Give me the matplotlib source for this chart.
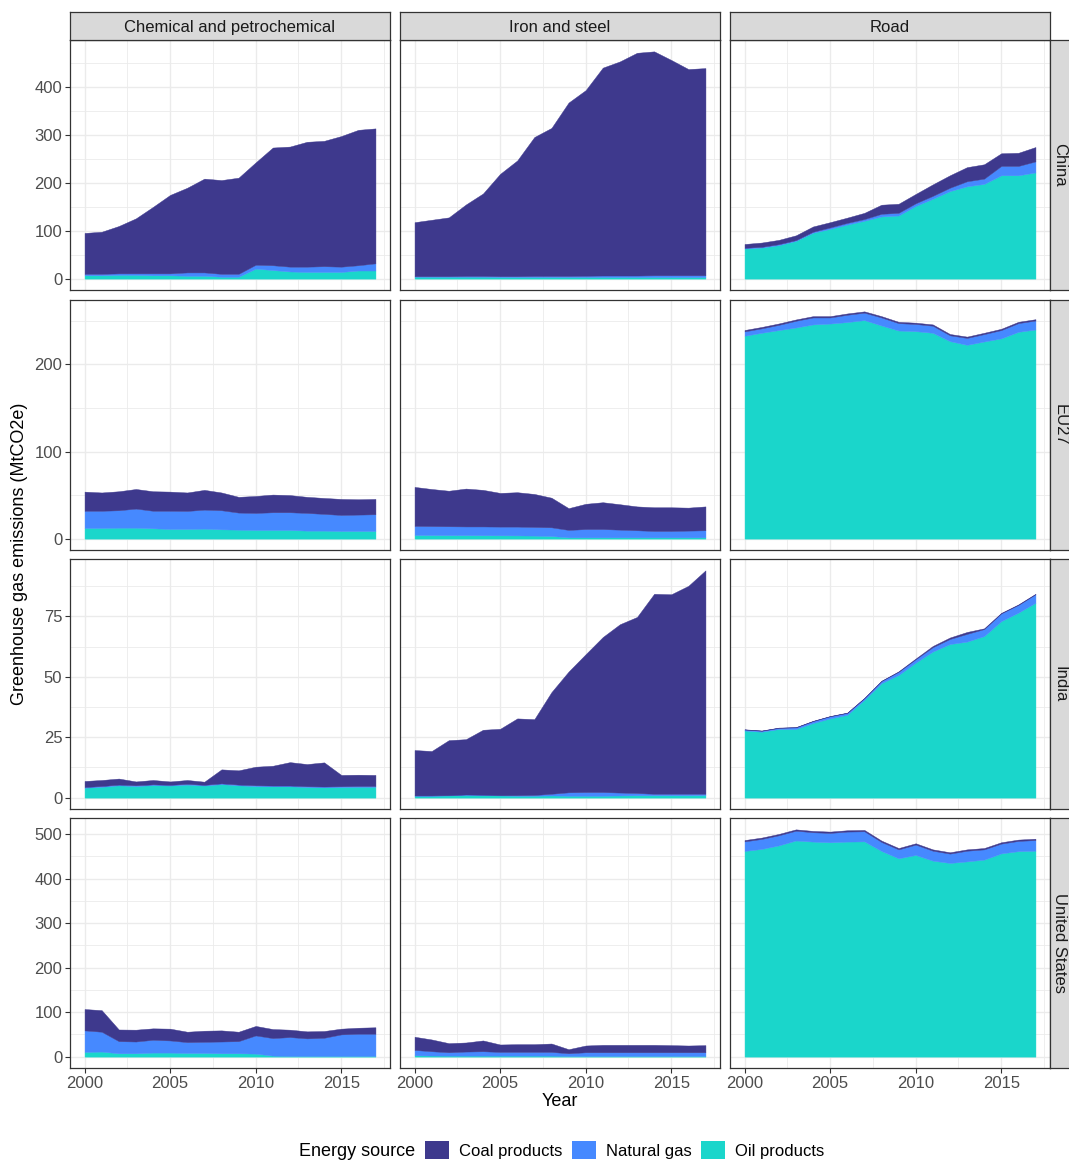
import matplotlib
matplotlib.use('Agg')
from matplotlib import pyplot as plt
from matplotlib.patches import Patch
from matplotlib.ticker import MultipleLocator

plt.rcParams['font.family'] = ['Liberation Sans', 'DejaVu Sans']

years = [2000, 2001, 2002, 2003, 2004, 2005, 2006, 2007, 2008,
         2009, 2010, 2011, 2012, 2013, 2014, 2015, 2016, 2017]
sectors = ['Chemical and petrochemical', 'Iron and steel', 'Road']
countries = ['China', 'EU27', 'India', 'United States']
fuels = ['Coal products', 'Natural gas', 'Oil products']
fuel_colors = {'Coal products': '#3E398D', 'Natural gas': '#4689FF', 'Oil products': '#1AD6CB'}

# MtCO2e
china_chem_oil = [7, 7, 8, 8, 7, 7, 6, 6, 4, 4, 21, 18, 15, 14, 14, 14, 17, 17]
china_chem_gas = [3, 3, 3, 3, 4, 4, 7, 7, 6, 6, 8, 10, 10, 11, 12, 11, 11, 15]
china_chem_coal = [85.5, 88, 99, 115, 139, 164, 177, 196, 196, 201, 214, 246, 251, 261, 262, 273, 283, 282]

china_iron_oil = [4, 4, 4, 4, 4, 3.5, 3.5, 3.5, 3.5, 3.5, 3.5, 3.5, 3.5, 3.5, 3.5, 3.5, 3.5, 3.5]
china_iron_gas = [1, 1, 1, 1.5, 1.5, 1.5, 1.5, 2, 2, 2, 2.5, 3, 3, 3, 3.5, 3.5, 3.5, 3.5]
china_iron_coal = [113, 118, 123, 149.5, 172.5, 214, 242, 290.5, 309.5, 362.5, 388, 434.5, 447.5, 465.5, 468, 450, 431, 433]

china_road_oil = [63, 65, 70, 79, 96, 104, 113, 121, 130, 132, 152, 167, 183, 193, 198, 216, 216, 222]
china_road_gas = [1.4, 1.4, 2, 1.5, 2, 3, 3.5, 3.5, 5.5, 5.5, 5.5, 6, 7, 10.5, 11, 19.5, 19.5, 23]
china_road_coal = [8, 9, 9, 10, 11, 11, 11, 13, 19, 19, 19.5, 24, 26, 29.5, 30, 26.5, 27.5, 30]

eu_chem_oil = [12.3, 12.3, 12.6, 12.6, 11.9, 11.1, 11.1, 11.5, 10.7, 10.3, 10, 10, 10, 9.2, 9.2, 8.8, 8.8, 8.8]
eu_chem_gas = [19.7, 19.7, 20, 21.9, 20.1, 20.9, 20.7, 21.8, 21.9, 19.6, 19.5, 20.3, 20.3, 20.3, 19.2, 18.4, 18.8, 19.2]
eu_chem_coal = [22, 21, 21.8, 22.5, 22.4, 22, 21.2, 22.7, 20.4, 18.1, 19.5, 20.3, 19.7, 18.5, 18.3, 18.4, 17.6, 17.6]

eu_iron_oil = [4.2, 4.1, 4, 4, 3.9, 3.8, 3.7, 3.5, 3, 1.5, 1.5, 1.5, 1.5, 1.5, 1.5, 1.5, 1.5, 1.5]
eu_iron_gas = [10.4, 10.3, 10.2, 10, 10.1, 10, 10.1, 9.9, 10, 8.5, 9.5, 9.5, 8.8, 8.1, 7.3, 7.3, 7.7, 8.1]
eu_iron_coal = [44.8, 42.6, 40.8, 43.5, 42, 38.7, 39.5, 37.9, 34, 25, 29, 30.8, 29.2, 27.4, 27.2, 27.2, 26.4, 27.4]

eu_road_oil = [233, 236.4, 239.5, 242.5, 246, 247, 248.7, 251, 244.8, 239, 238.3, 236.4, 226.8, 222.6, 226.4, 230, 237.5, 240.2]
eu_road_gas = [5, 5.1, 6, 7.7, 8, 7, 8.4, 8.5, 9.2, 8.5, 8.2, 8.1, 6.7, 7.9, 8.5, 9.5, 10, 10.3]
eu_road_coal = [1.6, 1.6, 1.6, 1.5, 1.5, 1.5, 1.5, 1.5, 1.5, 1.5, 1.5, 1.5, 1.5, 1.5, 1.5, 1.5, 1.5, 1.5]

india_chem_oil = [4.1, 4.5, 5.1, 4.8, 5.2, 5, 5.4, 5, 5.6, 5.1, 4.8, 4.7, 4.7, 4.4, 4.3, 4.4, 4.5, 4.5]
india_chem_gas = [0.3, 0.3, 0.3, 0.3, 0.3, 0.3, 0.3, 0.3, 0.3, 0.3, 0.3, 0.3, 0.3, 0.3, 0.3, 0.3, 0.3, 0.3]
india_chem_coal = [2.5, 2.5, 2.5, 1.6, 1.8, 1.4, 1.6, 1.3, 5.8, 5.9, 7.7, 8.2, 9.7, 9.2, 10, 4.7, 4.7, 4.6]

india_iron_oil = [0.8, 0.8, 0.9, 1.2, 1.1, 0.9, 0.8, 0.8, 0.9, 0.8, 0.8, 0.8, 0.9, 1, 1, 1, 1, 1.1]
india_iron_gas = [0.1, 0.1, 0.1, 0.1, 0.1, 0.1, 0.2, 0.3, 0.7, 1.4, 1.5, 1.5, 1.2, 0.9, 0.6, 0.6, 0.6, 0.5]
india_iron_coal = [18.8, 18.4, 22.8, 22.9, 26.9, 27.5, 31.8, 31.4, 42.1, 50, 57.1, 64.2, 69.7, 72.9, 82.8, 82.6, 86.1, 92.5]

india_road_oil = [27.8, 27.3, 28.4, 28.4, 30.9, 32.8, 34.3, 40.5, 47.4, 50.8, 55.9, 60.5, 63.6, 64.6, 66.9, 73.1, 76.6, 80.7]
india_road_gas = [0.4, 0.4, 0.5, 0.7, 0.8, 0.9, 0.8, 0.7, 0.9, 1.3, 1.4, 1.8, 2.1, 3.2, 2.9, 3.2, 3.2, 3.5]
india_road_coal = [0.1, 0.1, 0.1, 0.1, 0.1, 0.1, 0.1, 0.1, 0.1, 0.2, 0.3, 0.5, 0.6, 0.8, 0.3, 0.2, 0.2, 0.2]

us_chem_oil = [10.6, 11.4, 7.6, 7.6, 9.1, 9.1, 8.3, 8.3, 7.6, 7.6, 6.8, 2.3, 1.5, 1.5, 1.5, 1.5, 1.5, 1.5]
us_chem_gas = [48.4, 44.6, 27.2, 26.4, 28.8, 27.3, 24.3, 25, 26.4, 27.2, 40.9, 39.4, 42.5, 39.5, 40.9, 48.5, 50, 50]
us_chem_coal = [48, 48.5, 26.2, 26.6, 25.7, 26.5, 23.4, 25, 25, 21.2, 21.3, 20.3, 16.6, 15.8, 15.2, 12.9, 13.5, 14.5]

us_iron_oil = [3, 2.5, 2.3, 2.3, 2.3, 2.3, 2.3, 2.3, 2.3, 1.5, 1.5, 1.5, 1.5, 1.5, 1.5, 1.5, 1.5, 1.5]
us_iron_gas = [12, 9.6, 7.5, 9.1, 9.8, 8.3, 8.3, 8.3, 8.3, 6.1, 8.3, 8.3, 8.3, 8.3, 8.3, 8.3, 8.3, 8.3]
us_iron_coal = [29.7, 26.5, 20.5, 20.4, 24.3, 16.7, 17.4, 17.4, 18.9, 9.1, 15.2, 16.7, 16.7, 16.7, 16.7, 16, 15.2, 16]

us_road_oil = [462.5, 467, 475, 486, 483.5, 482, 483.5, 484, 462.5, 446, 453.5, 440.7, 435.5, 439, 443, 457, 462, 463]
us_road_gas = [21.5, 22.5, 22.7, 22, 21, 21, 22.5, 22.7, 20.2, 20, 23.2, 22.3, 21, 24, 23, 22, 23, 24]
us_road_coal = [3, 3, 3, 3, 3, 3, 3, 3, 3, 3, 3, 3, 3, 3, 3, 3, 3, 3]

panels = {
    'China': [(china_chem_oil, china_chem_gas, china_chem_coal),
              (china_iron_oil, china_iron_gas, china_iron_coal),
              (china_road_oil, china_road_gas, china_road_coal)],
    'EU27': [(eu_chem_oil, eu_chem_gas, eu_chem_coal),
             (eu_iron_oil, eu_iron_gas, eu_iron_coal),
             (eu_road_oil, eu_road_gas, eu_road_coal)],
    'India': [(india_chem_oil, india_chem_gas, india_chem_coal),
              (india_iron_oil, india_iron_gas, india_iron_coal),
              (india_road_oil, india_road_gas, india_road_coal)],
    'United States': [(us_chem_oil, us_chem_gas, us_chem_coal),
                      (us_iron_oil, us_iron_gas, us_iron_coal),
                      (us_road_oil, us_road_gas, us_road_coal)],
}
y_steps = {'China': 100, 'EU27': 100, 'India': 25, 'United States': 100}

W, H = 1069, 1161
fig = plt.figure(figsize=(W / 100, H / 100), dpi=100)


def px_rect(x, y, w, h):
    return [x / W, 1 - (y + h) / H, w / W, h / H]


col_x = [70, 400, 730]
row_y = [40, 300, 559, 818]
pw, ph = 320, 250
border = '#333333'

x_lo = years[0] - 0.05 * (years[-1] - years[0])
x_hi = years[-1] + 0.05 * (years[-1] - years[0])

for i, country in enumerate(countries):
    # shared y range across the row (facet_grid free_y)
    top = max(o + g + c for stack in panels[country] for o, g, c in zip(*stack))
    y_lo, y_hi = -0.05 * top, top * 1.05

    for j, sector in enumerate(sectors):
        ax = fig.add_axes(px_rect(col_x[j], row_y[i], pw, ph))
        oil, gas, coal = panels[country][j]
        polys = ax.stackplot(years, oil, gas, coal,
                             colors=[fuel_colors['Oil products'], fuel_colors['Natural gas'],
                                     fuel_colors['Coal products']],
                             linewidth=0)
        for p in polys:
            p.set_edgecolor(p.get_facecolor())
            p.set_linewidth(0.3)

        ax.set_xlim(x_lo, x_hi)
        ax.set_ylim(y_lo, y_hi)
        ax.xaxis.set_major_locator(MultipleLocator(5))
        ax.xaxis.set_minor_locator(MultipleLocator(2.5))
        ax.yaxis.set_major_locator(MultipleLocator(y_steps[country]))
        ax.yaxis.set_minor_locator(MultipleLocator(y_steps[country] / 2))
        ax.grid(which='major', color='#EBEBEB', lw=1.0)
        ax.grid(which='minor', color='#EBEBEB', lw=0.6)
        ax.set_axisbelow(True)
        for s in ax.spines.values():
            s.set_color(border)
            s.set_linewidth(0.9)
        ax.tick_params(which='major', length=3.5, width=0.8, color=border,
                       labelcolor='#4D4D4D', labelsize=12, pad=2)
        ax.tick_params(which='minor', length=0)
        if j > 0:
            ax.tick_params(labelleft=False, left=False)
        if i < len(countries) - 1:
            ax.tick_params(labelbottom=False, bottom=False)

        if i == 0:
            sax = fig.add_axes(px_rect(col_x[j], 12, pw, 28))
            sax.set_facecolor('#D9D9D9')
            sax.set_xticks([])
            sax.set_yticks([])
            for s in sax.spines.values():
                s.set_color(border)
                s.set_linewidth(0.9)
            sax.text(0.5, 0.44, sector, ha='center', va='center', fontsize=12,
                     color='#1A1A1A', transform=sax.transAxes)

    rax = fig.add_axes(px_rect(1050, row_y[i], 22, ph))
    rax.set_facecolor('#D9D9D9')
    rax.set_xticks([])
    rax.set_yticks([])
    for s in rax.spines.values():
        s.set_color(border)
        s.set_linewidth(0.9)
    rax.text(0.45, 0.5, country, ha='center', va='center', rotation=-90, fontsize=12,
             color='#1A1A1A', transform=rax.transAxes)

fig.text(20 / W, 1 - 554 / H, 'Greenhouse gas emissions (MtCO2e)', rotation=90,
         ha='center', va='center', fontsize=13)
fig.text(560 / W, 1 - 1102 / H, 'Year', ha='center', va='center', fontsize=13)

fig.text(299 / W, 1 - 1152 / H, 'Energy source', ha='left', va='center', fontsize=13)
handles = [Patch(facecolor=fuel_colors[f], edgecolor='none') for f in fuels]
fig.legend(handles, fuels, loc='center left', bbox_to_anchor=(425 / W, 1 - 1150 / H),
           ncol=3, frameon=False, fontsize=12, handlelength=1.45, handleheight=1.3,
           handletextpad=0.6, columnspacing=0.55, borderpad=0, borderaxespad=0)

fig.savefig('out.png', dpi=100)
